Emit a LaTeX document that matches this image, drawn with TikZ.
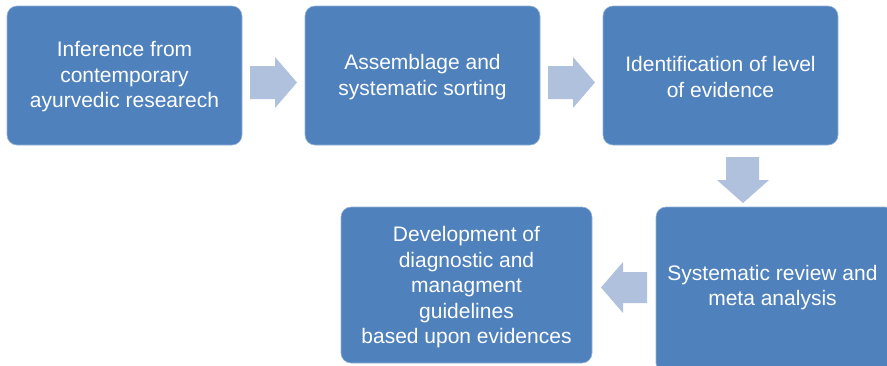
\documentclass[tikz,border=0pt]{standalone}
\usepackage{fontspec}
\setmainfont{Liberation Sans}
\definecolor{boxblue}{HTML}{4F81BD}
\definecolor{arrowblue}{HTML}{B0C1DD}
\begin{document}
\begin{tikzpicture}[x=1pt,y=-1pt,
  stepbox/.style={fill=boxblue,draw=boxblue!60!white,line width=0.6pt,rounded corners=10pt},
  steptext/.style={text=white,align=center,font=\fontsize{21}{25.5}\selectfont,inner sep=0pt},
  blockarrow/.style={fill=arrowblue,draw=none}]
\useasboundingbox (0,0) rectangle (887,365);
\begin{scope}
\clip (0,0) rectangle (887,365);
% boxes
\draw[stepbox] (7,6) rectangle (242,145);
\node[steptext] (t1) at (124.5,77) {Inference from\\contemporary\\ayurvedic researech};
\draw[stepbox] (305,6) rectangle (540,145);
\node[steptext] (t2) at (422.5,77) {Assemblage and\\systematic sorting};
\draw[stepbox] (603,6) rectangle (838,145);
\node[steptext] (t3) at (720.5,77) {Identification of level\\of evidence};
\draw[stepbox] (656,207) rectangle (895,373);
\node[steptext] (t4) at (772.5,287.5) {Systematic review and\\meta analysis};
\draw[stepbox] (341,207) rectangle (592,363);
\node[steptext] (t5) at (466.5,287.5) {Development of\\diagnostic and\\managment\\guidelines\\based upon evidences};
% block arrows
\fill[blockarrow] (250,66) -- (275,66) -- (275,57) -- (297,82.5) -- (275,108) -- (275,99) -- (250,99) -- cycle;
\fill[blockarrow] (548,66) -- (573,66) -- (573,57) -- (595,82.5) -- (573,108) -- (573,99) -- (548,99) -- cycle;
\fill[blockarrow] (726,157) -- (759,157) -- (759,180) -- (769,180) -- (743,203) -- (717,180) -- (726,180) -- cycle;
\fill[blockarrow] (647,272) -- (623,272) -- (623,262) -- (601,287.5) -- (623,313) -- (623,303) -- (647,303) -- cycle;
\end{scope}
\end{tikzpicture}
\end{document}
